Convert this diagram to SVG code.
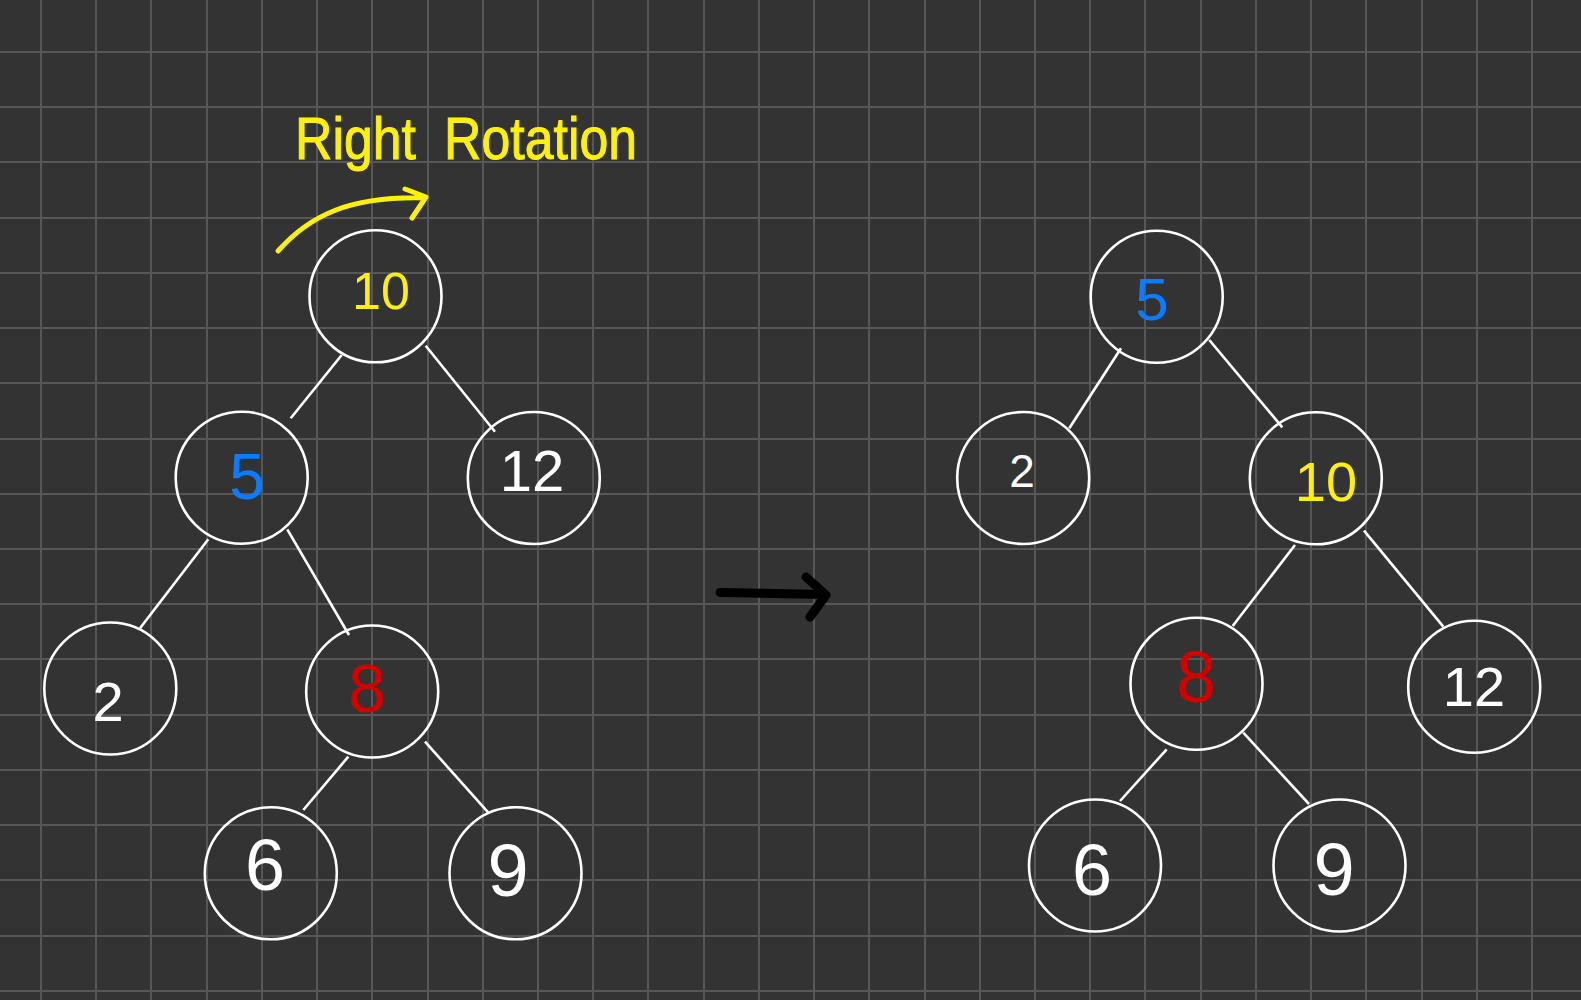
<svg xmlns="http://www.w3.org/2000/svg" width="1581" height="1000" viewBox="0 0 1581 1000">
<style>
.bg{fill:#333333}
.grid{stroke:#575757;stroke-width:2;fill:none}
.node{fill:none;stroke:#ffffff;stroke-width:2.6}
.edge{stroke:#ffffff;stroke-width:2.6;stroke-linecap:butt;fill:none}
.lbl{font-family:"Liberation Sans Narrow","Liberation Sans",Arial,sans-serif;text-anchor:middle}
.w{fill:#ffffff}
.y{fill:#fff200}
.b{fill:#0a7cff}
.r{fill:#d40000}
.title{font-family:"Liberation Sans Narrow","Liberation Sans",Arial,sans-serif;fill:#fff200;stroke:#fff200;stroke-width:1;font-size:60px}
</style>
<rect class="bg" x="0" y="0" width="1581" height="1000"/>
<path class="grid" d="M41 0V1000M96 0V1000M151 0V1000M207 0V1000M262 0V1000M317 0V1000M372 0V1000M428 0V1000M483 0V1000M538 0V1000M593 0V1000M648 0V1000M704 0V1000M759 0V1000M814 0V1000M869 0V1000M925 0V1000M980 0V1000M1035 0V1000M1090 0V1000M1145 0V1000M1201 0V1000M1256 0V1000M1311 0V1000M1366 0V1000M1422 0V1000M1477 0V1000M1532 0V1000M0 52H1581M0 107H1581M0 162H1581M0 218H1581M0 273H1581M0 328H1581M0 383H1581M0 439H1581M0 494H1581M0 549H1581M0 604H1581M0 659H1581M0 715H1581M0 770H1581M0 825H1581M0 880H1581M0 936H1581M0 991H1581"/>

<g id="annotation">
<text class="title" x="295" y="159" textLength="342" lengthAdjust="spacingAndGlyphs" word-spacing="16">Right Rotation</text>
<path d="M278,251 C310,215 350,196 425,198 M405,189 L426,197 L412,218" fill="none" stroke="#fff200" stroke-width="5" stroke-linecap="round" stroke-linejoin="round"/>
</g>

<g id="transform-arrow">
<path d="M720,592.5 L825,594.5 M806,577 L826,595 L810,617" fill="none" stroke="#000000" stroke-width="9" stroke-linecap="round" stroke-linejoin="round"/>
</g>

<g id="connectors">
<line class="edge" x1="341.7" y1="355" x2="290.7" y2="418.3"/>
<line class="edge" x1="425.7" y1="345.7" x2="495" y2="431.7"/>
<line class="edge" x1="208.3" y1="539.3" x2="140" y2="628.3"/>
<line class="edge" x1="287.3" y1="529.3" x2="349" y2="635"/>
<line class="edge" x1="348.3" y1="756.7" x2="303.3" y2="810"/>
<line class="edge" x1="425" y1="741.7" x2="489" y2="813.3"/>
<line class="edge" x1="1121" y1="348.3" x2="1069.3" y2="428.3"/>
<line class="edge" x1="1209.3" y1="340" x2="1282.3" y2="427.3"/>
<line class="edge" x1="1295" y1="545" x2="1232.7" y2="626"/>
<line class="edge" x1="1364" y1="530.7" x2="1443.3" y2="626.7"/>
<line class="edge" x1="1166.7" y1="749.3" x2="1120" y2="801"/>
<line class="edge" x1="1243.3" y1="732.7" x2="1309" y2="804"/>
</g>

<g id="left-10"><circle class="node" cx="375.5" cy="296.3" r="66"/><text class="lbl y" x="381" y="309" font-size="52">10</text></g>
<g id="left-5"><circle class="node" cx="241.7" cy="477.7" r="66"/><text class="lbl b" x="247" y="499" font-size="64">5</text></g>
<g id="left-12"><circle class="node" cx="533.8" cy="478" r="66"/><text class="lbl w" x="532" y="491" font-size="58">12</text></g>
<g id="left-2"><circle class="node" cx="110.3" cy="688.5" r="66"/><text class="lbl w" x="108" y="721" font-size="56">2</text></g>
<g id="left-8"><circle class="node" cx="372.2" cy="691.5" r="66"/><text class="lbl r" x="367" y="712" font-size="68">8</text></g>
<g id="left-6"><circle class="node" cx="270.8" cy="873.3" r="66"/><text class="lbl w" x="265" y="890" font-size="72">6</text></g>
<g id="left-9"><circle class="node" cx="515.5" cy="873.3" r="66"/><text class="lbl w" x="508" y="896" font-size="74">9</text></g>

<g id="right-5"><circle class="node" cx="1156.7" cy="296.7" r="66"/><text class="lbl b" x="1152" y="320" font-size="60">5</text></g>
<g id="right-2"><circle class="node" cx="1023.2" cy="478" r="66"/><text class="lbl w" x="1022" y="487" font-size="46">2</text></g>
<g id="right-10"><circle class="node" cx="1315.8" cy="478.3" r="66"/><text class="lbl y" x="1326" y="501" font-size="56">10</text></g>
<g id="right-8"><circle class="node" cx="1196.5" cy="683.7" r="66"/><text class="lbl r" x="1196" y="702" font-size="72">8</text></g>
<g id="right-12"><circle class="node" cx="1474.2" cy="686.7" r="66"/><text class="lbl w" x="1474" y="706" font-size="56">12</text></g>
<g id="right-6"><circle class="node" cx="1095" cy="865.5" r="66"/><text class="lbl w" x="1092" y="895" font-size="72">6</text></g>
<g id="right-9"><circle class="node" cx="1339.5" cy="865.5" r="66"/><text class="lbl w" x="1334" y="895" font-size="74">9</text></g>
</svg>
